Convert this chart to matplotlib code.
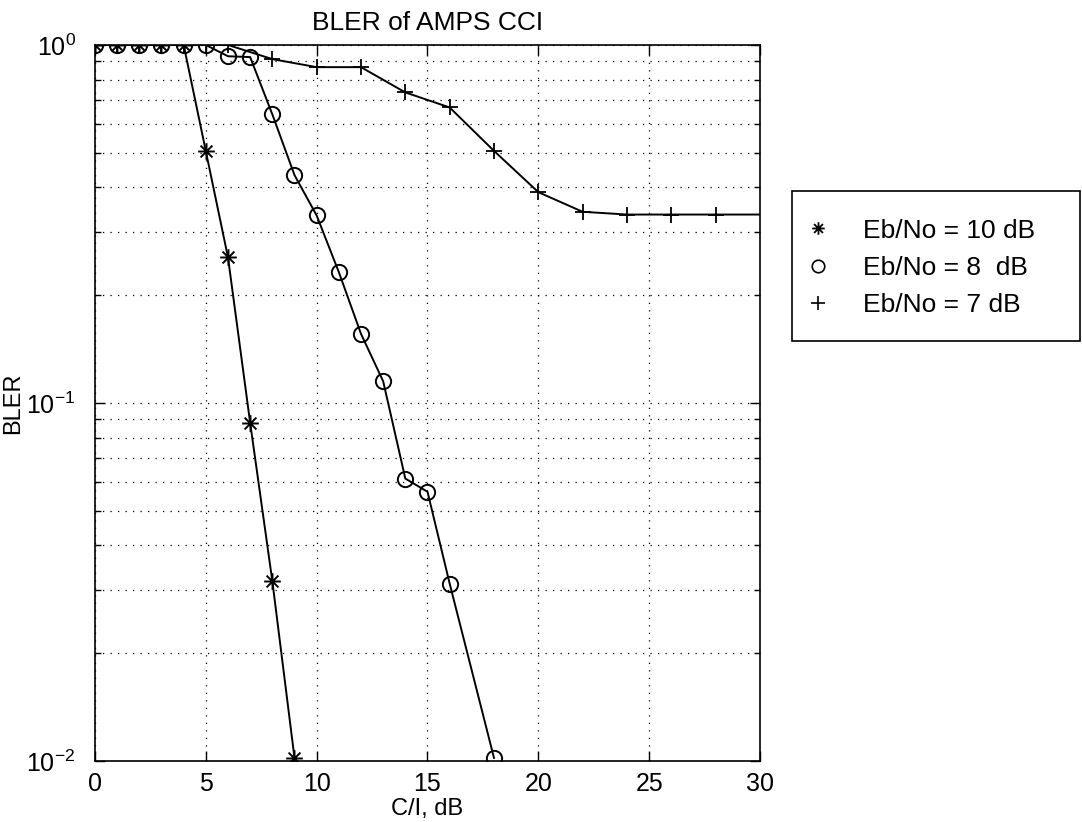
import matplotlib
matplotlib.use("Agg")
import matplotlib.pyplot as plt
from matplotlib.path import Path
from matplotlib.patches import Rectangle
from matplotlib.ticker import LogLocator, FixedLocator, NullFormatter

plt.rcParams['font.family'] = ['Liberation Sans', 'DejaVu Sans']
plt.rcParams['mathtext.default'] = 'regular'

# BLER vs C/I for three Eb/No values
ci_10 = [0, 1, 2, 3, 4, 5, 6, 7, 8, 9]
bler_10 = [1.0, 1.0, 1.0, 1.0, 1.0, 0.505, 0.255, 0.088, 0.0318, 0.0102]

ci_8 = [0, 1, 2, 3, 4, 5, 6, 7, 8, 9, 10, 11, 12, 13, 14, 15, 16, 18]
bler_8 = [1.0, 1.0, 1.0, 1.0, 1.0, 1.0, 0.93, 0.925, 0.64, 0.433, 0.334,
          0.232, 0.156, 0.115, 0.0615, 0.0565, 0.0313, 0.0102]

ci_7 = [0, 1, 2, 3, 4, 5, 6, 8, 10, 12, 14, 16, 18, 20, 22, 24, 26, 28, 30]
bler_7 = [1.0, 1.0, 1.0, 1.0, 1.0, 1.0, 1.0, 0.913, 0.867, 0.867, 0.737,
          0.669, 0.506, 0.388, 0.342, 0.336, 0.336, 0.336, 0.336]

legend_labels = ['Eb/No = 10 dB', 'Eb/No = 8  dB', 'Eb/No = 7 dB']

# eight-armed asterisk marker (stroked, not filled)
star_path = Path(
    [(-1, 0), (1, 0), (0, -1), (0, 1),
     (-0.71, -0.71), (0.71, 0.71), (-0.71, 0.71), (0.71, -0.71)],
    [Path.MOVETO, Path.LINETO] * 4)

fig = plt.figure(figsize=(10.82, 8.22), dpi=100)
ax = fig.add_axes([0.0878, 0.0742, 0.6146, 0.8711])

lw = 1.4
ax.plot(ci_10, bler_10, color='k', lw=lw, marker=star_path, ms=12,
        mfc='none', mec='k', mew=1.4)
ax.plot(ci_8, bler_8, color='k', lw=lw, marker='o', ms=11,
        mfc='none', mec='k', mew=1.4)
ax.plot(ci_7, bler_7, color='k', lw=lw, marker='+', ms=12,
        mec='k', mew=1.3, markevery=list(range(len(ci_7) - 1)))

ax.set_yscale('log')
ax.set_xlim(0, 30)
ax.set_ylim(1e-2, 1)
ax.xaxis.set_major_locator(FixedLocator([0, 5, 10, 15, 20, 25, 30]))
ax.yaxis.set_major_locator(LogLocator(base=10, numticks=10))
ax.yaxis.set_minor_locator(LogLocator(base=10, subs=range(2, 10), numticks=20))
ax.yaxis.set_minor_formatter(NullFormatter())

ax.grid(True, which='major', color='k', linestyle=(0, (1, 5)), lw=0.9)
ax.grid(True, which='minor', axis='y', color='k', linestyle=(0, (1, 5)), lw=0.9)

ax.tick_params(which='both', direction='in', top=True, right=True,
               labelsize=18, width=1.0)
ax.tick_params(axis='x', which='major', length=7, pad=8)
ax.tick_params(axis='y', which='major', length=7, pad=14)
ax.tick_params(which='minor', length=4)
for s in ax.spines.values():
    s.set_linewidth(1.2)

ax.set_title('BLER of AMPS CCI', fontsize=19, pad=11)
ax.set_xlabel('C/I, dB', fontsize=17, labelpad=1)
ax.set_ylabel('BLER', fontsize=17, labelpad=2)

# legend: markers only, inside a separately drawn frame
handles = [
    plt.Line2D([], [], ls='none', marker=star_path, ms=9, mfc='none',
               mec='k', mew=1.3),
    plt.Line2D([], [], ls='none', marker='o', ms=9, mfc='none',
               mec='k', mew=1.2),
    plt.Line2D([], [], ls='none', marker='+', ms=10, mec='k', mew=1.2),
]
fig.legend(handles, legend_labels, loc='center left',
           bbox_to_anchor=(792 / 1082, 1 - 268 / 822), fontsize=19,
           frameon=False, borderpad=0.5, labelspacing=0.51,
           handletextpad=1.2, handlelength=1.0, borderaxespad=0)
fig.patches.append(Rectangle((792 / 1082, 1 - 341 / 822),
                             (1080 - 792) / 1082, 150 / 822,
                             transform=fig.transFigure, fill=False,
                             edgecolor='k', lw=1.2))

fig.savefig('out.png', dpi=100)
